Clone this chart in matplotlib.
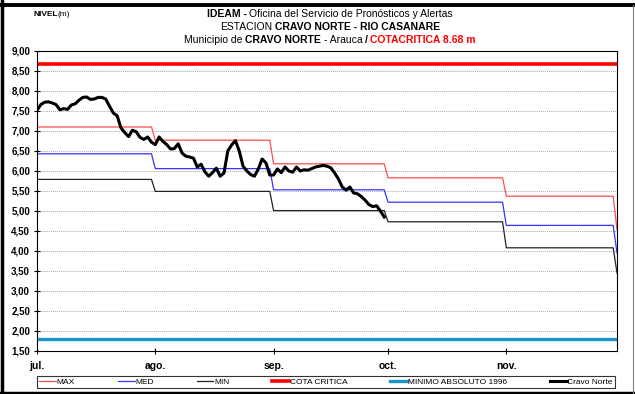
import numpy as np
import matplotlib
matplotlib.use("Agg")
import matplotlib.pyplot as plt
from matplotlib import font_manager
from matplotlib.lines import Line2D
from matplotlib.ticker import FuncFormatter, MultipleLocator

# condensed font if present, otherwise the regular Liberation Sans
names = {f.name for f in font_manager.fontManager.ttflist}
FONT = "Liberation Sans Narrow" if "Liberation Sans Narrow" in names else "Liberation Sans"
plt.rcParams["font.family"] = [FONT, "DejaVu Sans"]

# month names and lengths, Jul - Nov
months = ["jul.", "ago.", "sep.", "oct.", "nov."]
month_days = [31, 31, 30, 31, 30]

# historical monthly levels (m); the last entry is the value for the first day after November
max_level = [7.10, 6.77, 6.18, 5.83, 5.37, 4.53]
med_level = [6.43, 6.06, 5.53, 5.22, 4.64, 3.95]
min_level = [5.79, 5.49, 5.01, 4.73, 4.08, 3.45]

cota_critica = 8.68
minimo_absoluto = 1.80

# daily level at Cravo Norte, from 1 Jul
cravo_norte = [
    7.52, 7.66, 7.72, 7.73, 7.70, 7.66, 7.53, 7.56, 7.54, 7.65,
    7.68, 7.77, 7.84, 7.85, 7.79, 7.80, 7.84, 7.84, 7.80, 7.62,
    7.45, 7.38, 7.08, 6.96, 6.86, 7.02, 6.98, 6.84, 6.79, 6.85,
    6.72, 6.66, 6.85, 6.74, 6.66, 6.55, 6.56, 6.68, 6.45, 6.37,
    6.35, 6.32, 6.10, 6.17, 5.98, 5.87, 5.96, 6.07, 5.87, 5.95,
    6.50, 6.65, 6.76, 6.50, 6.12, 6.00, 5.91, 5.87, 6.05, 6.30,
    6.20, 5.90, 5.90, 6.05, 5.96, 6.10, 6.00, 5.97, 6.10, 6.00,
    6.03, 6.02, 6.06, 6.10, 6.12, 6.14, 6.12, 6.08, 5.95, 5.80,
    5.60, 5.52, 5.60, 5.45, 5.43, 5.36, 5.27, 5.16, 5.11, 5.13,
    5.00, 4.85,
]

# daily steps for the monthly references; November loses its last day to the drop
reps = month_days[:-1] + [month_days[-1] - 1, 1]
n_days = sum(reps)
days = np.arange(n_days)
max_daily = np.repeat(max_level, reps)
med_daily = np.repeat(med_level, reps)
min_daily = np.repeat(min_level, reps)

W, H = 635, 394
fig = plt.figure(figsize=(W / 100, H / 100), dpi=100)
ax = fig.add_axes([37 / W, 1 - 351 / H, 580 / W, 300 / H])

ax.plot(days, max_daily, color="#ff4d4d", lw=0.9, label="MAX")
ax.plot(days, med_daily, color="#3333ff", lw=0.9, label="MED")
ax.plot(days, min_daily, color="#222222", lw=0.9, label="MIN")
ax.plot(days, np.full(n_days, cota_critica), color="#ff0000", lw=2.6, label="COTA CRITICA")
ax.plot(days, np.full(n_days, minimo_absoluto), color="#1a95c8", lw=2.4,
        label="MINIMO ABSOLUTO 1996")
ax.plot(np.arange(len(cravo_norte)), cravo_norte, color="black", lw=2.2,
        solid_joinstyle="round", label="Cravo Norte")

ax.set_xlim(0, n_days - 1)
ax.set_ylim(1.5, 9.0)
ax.yaxis.set_major_locator(MultipleLocator(0.5))
ax.yaxis.set_major_formatter(FuncFormatter(lambda v, p: f"{v:.2f}".replace(".", ",")))
ax.grid(axis="y", color="#a8a8a8", lw=0.7, linestyle=(0, (1, 1)))

starts = np.concatenate([[0], np.cumsum(month_days[:-1])])
ax.set_xticks(starts)
ax.set_xticklabels(months, fontsize=7.5, fontweight="bold")
ax.tick_params(axis="x", direction="inout", length=4, width=0.8, pad=5)
ax.tick_params(axis="y", direction="inout", length=4, width=0.8, pad=3, labelsize=7)
for lab in ax.get_yticklabels():
    lab.set_fontweight("bold")
for s in ax.spines.values():
    s.set_linewidth(0.8)

# legend strip under the axis
leg = ax.legend(loc="lower left", bbox_to_anchor=(33 / W, 1 - 392 / H, 586 / W, 14 / H),
                bbox_transform=fig.transFigure, mode="expand", ncol=6, fontsize=6,
                handlelength=2.0, handletextpad=0.1, borderpad=0.25,
                frameon=True, fancybox=False, edgecolor="black")
leg.get_frame().set_linewidth(0.8)


def rich_line(pieces, y, size, cx=330, gap=2.5):
    # draw a centred line of text made of differently styled pieces
    renderer = fig.canvas.get_renderer()
    items = [fig.text(0, 1 - y / H, s, fontsize=size, fontweight=w, color=c, va="center")
             for s, w, c in pieces]
    widths = [t.get_window_extent(renderer).width for t in items]
    x = cx - (sum(widths) + gap * (len(items) - 1)) / 2
    for t, w in zip(items, widths):
        t.set_x(x / W)
        x += w + gap


rich_line([("IDEAM -", "bold", "black"),
           ("Oficina del Servicio de Pronósticos y Alertas", "normal", "black")], 14, 7.5)
rich_line([("ESTACION", "normal", "black"),
           ("CRAVO NORTE - RIO CASANARE", "bold", "black")], 27, 7.5)
rich_line([("Municipio de", "normal", "black"),
           ("CRAVO NORTE", "bold", "black"),
           ("- Arauca", "normal", "black"),
           ("/", "bold", "black"),
           ("COTACRITICA 8.68 m", "bold", "#ff0000")], 40, 7.5)

fig.text(34 / W, 1 - 14 / H, "NIVEL", fontsize=6, fontweight="bold", va="center")
fig.text(57 / W, 1 - 14 / H, "(m)", fontsize=6, va="center")

# frame around the whole chart
fig.add_artist(Line2D([1.5 / W, 1.5 / W], [0, 1], transform=fig.transFigure, color="black", lw=2.5))
fig.add_artist(Line2D([0, 1], [1 - 5 / H, 1 - 5 / H], transform=fig.transFigure, color="black", lw=2.8))
fig.add_artist(Line2D([0, 1], [1.5 / H, 1.5 / H], transform=fig.transFigure, color="black", lw=2.5))
fig.add_artist(Line2D([633 / W, 633 / W], [0, 1 - 5 / H], transform=fig.transFigure, color="#808080", lw=0.8))

fig.savefig("out.png", dpi=100)
